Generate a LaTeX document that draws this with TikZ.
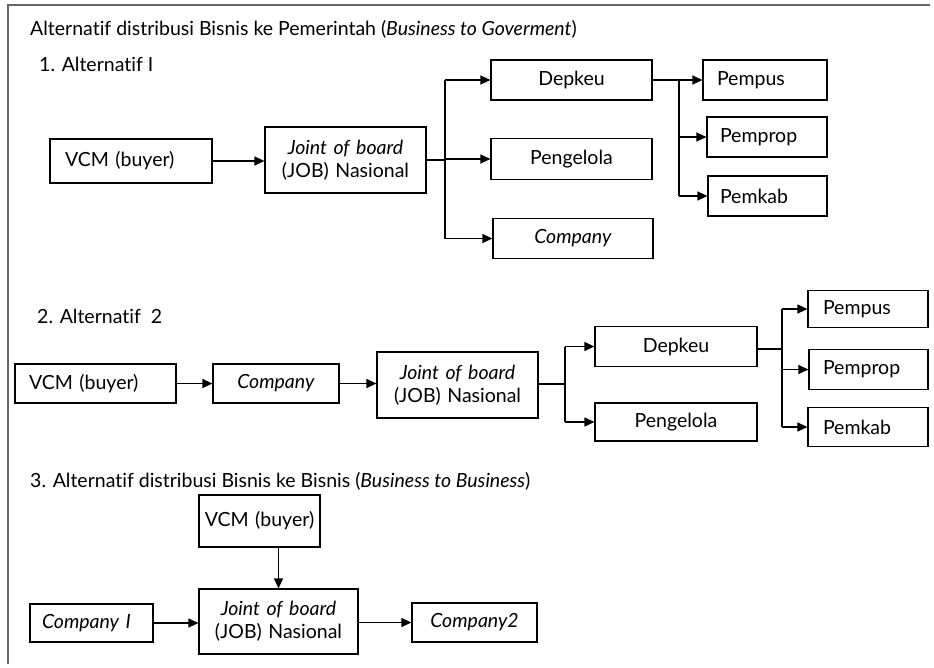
\documentclass[tikz,border=0pt]{standalone}
\usepackage{fontspec}
\setmainfont{Lato}[Ligatures=NoCommon]
\usetikzlibrary{arrows.meta}
\begin{document}
\begin{tikzpicture}[x=1pt,y=-1pt,
  txt/.style={font=\fontsize{19.5}{23}\selectfont},
  bx/.style={draw, line width=1.2pt, inner ysep=0pt, txt, align=center},
  ln/.style={line width=1.2pt},
  arr/.style={ln, -{Triangle[length=10pt,width=9pt]}},
  hd/.style={txt, anchor=base west, inner sep=0pt}]
\useasboundingbox (0,0) rectangle (934,667);
% outer frame
\draw[line width=1.5pt, black!60] (8,664) -- (8,5) -- (930,5);

% headings
\node[hd] (h0) at (30,35) {Alternatif distribusi Bisnis ke Pemerintah (\textit{Business to Goverment})};
\node[hd] (h1) at (39,71) {1. Alternatif I};
\node[hd] (h2) at (37,323) {2. Alternatif\ \ 2};
\node[hd] (h3) at (30,487) {3. Alternatif distribusi Bisnis ke Bisnis (\textit{Business to Business})};

% ---- alternative 1 ----
\node[bx, minimum height=44pt, inner xsep=15pt, text width=132pt, align=left] (v1) at (131,161) {VCM (buyer)};
\node[bx, minimum height=66pt, inner xsep=2pt, text width=157pt] (j1) at (345.5,160) {\textit{Joint of board}\\(JOB) Nasional};
\node[bx, minimum height=40pt, inner xsep=4pt, text width=153pt] (d1) at (571.5,80) {Depkeu};
\node[bx, minimum height=41pt, inner xsep=4pt, text width=153pt] (g1) at (571.5,159) {Pengelola};
\node[bx, minimum height=40pt, inner xsep=4pt, text width=152pt] (c1) at (573,238.5) {\textit{Company}};
\node[bx, minimum height=40pt, inner xsep=14pt, text width=96pt, align=left] (pu1) at (765,80) {Pempus};
\node[bx, minimum height=40pt, inner xsep=13pt, text width=94pt, align=left] (pp1) at (767,137) {Pemprop};
\node[bx, minimum height=40pt, inner xsep=12pt, text width=95pt, align=left] (pk1) at (767.5,196) {Pemkab};
\coordinate (t1) at (445,160);
\coordinate (s1) at (679,80);

\draw[arr] (v1.east) -- (v1.east -| j1.west);
\draw[ln] (j1.east) -- (t1);
\draw[ln] (t1 |- d1.west) -- (t1 |- c1.west);
\draw[arr] (t1 |- d1.west) -- (d1.west);
\draw[arr] (t1 |- g1.west) -- (g1.west);
\draw[arr] (t1 |- c1.west) -- (c1.west);
\draw[arr] (d1.east) -- (pu1.west);
\draw[ln] (s1) -- (s1 |- pk1.west);
\draw[arr] (s1 |- pp1.west) -- (pp1.west);
\draw[arr] (s1 |- pk1.west) -- (pk1.west);

% ---- alternative 2 ----
\node[bx, minimum height=39pt, inner xsep=14pt, text width=133pt, align=left] (v2) at (95.5,383.5) {VCM (buyer)};
\node[bx, minimum height=39pt, inner xsep=2pt, text width=122pt] (c2) at (276,383.5) {\textit{Company}};
\node[bx, minimum height=66pt, inner xsep=2pt, text width=157pt] (j2) at (457.5,385) {\textit{Joint of board}\\(JOB) Nasional};
\node[bx, minimum height=40pt, inner xsep=4pt, text width=154pt] (d2) at (676,346.5) {Depkeu};
\node[bx, minimum height=38pt, inner xsep=4pt, text width=154pt] (g2) at (676,422) {Pengelola};
\node[bx, minimum height=37pt, inner xsep=15pt, text width=90pt, align=left] (pu2) at (868,309) {Pempus};
\node[bx, minimum height=40pt, inner xsep=14pt, text width=91pt, align=left] (pp2) at (868.5,369.5) {Pemprop};
\node[bx, minimum height=39pt, inner xsep=15pt, text width=90pt, align=left] (pk2) at (868,427) {Pemkab};
\coordinate (t2) at (565,384);
\coordinate (s2) at (782,349);

\draw[arr] (v2.east) -- (c2.west);
\draw[arr] (c2.east) -- (c2.east -| j2.west);
\draw[ln] (j2.east |- t2) -- (t2);
\draw[ln] (t2 |- d2.west) -- (t2 |- g2.west);
\draw[arr] (t2 |- d2.west) -- (d2.west);
\draw[arr] (t2 |- g2.west) -- (g2.west);
\draw[ln] (d2.east |- s2) -- (s2);
\draw[ln] (s2 |- pu2.west) -- (s2 |- pk2.west);
\draw[arr] (s2 |- pu2.west) -- (pu2.west);
\draw[arr] (s2 |- pp2.west) -- (pp2.west);
\draw[arr] (s2 |- pk2.west) -- (pk2.west);

% ---- alternative 3 ----
\node[bx, minimum height=52pt, inner xsep=3pt, text width=115pt] (v3) at (259.5,521) {VCM (buyer)};
\node[bx, minimum height=65pt, inner xsep=2pt, text width=155pt] (j3) at (278.5,621.5) {\textit{Joint of board}\\(JOB) Nasional};
\node[bx, minimum height=38pt, inner xsep=12pt, text width=99pt, align=left] (co1) at (91.5,623) {\textit{Company I}};
\node[bx, minimum height=39pt, inner xsep=2pt, text width=121pt] (co2) at (474.5,622.5) {\textit{Company2}};

\draw[arr] (v3.south -| j3.north) -- (j3.north);
\draw[arr] (co1.east) -- (co1.east -| j3.west);
\draw[arr] (j3.east |- co2.west) -- (co2.west);
\end{tikzpicture}
\end{document}
